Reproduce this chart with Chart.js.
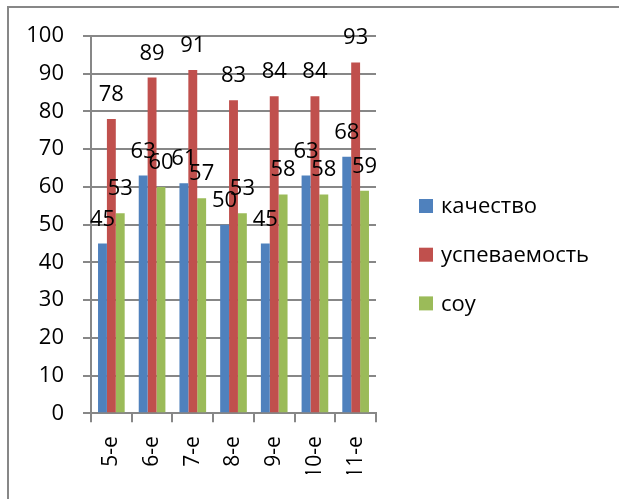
<!DOCTYPE html>
<html><head><meta charset="utf-8">
<script src="https://cdn.jsdelivr.net/npm/chart.js@4"></script>
<style>
html,body{margin:0;padding:0;background:#fff;width:619px;height:499px;overflow:hidden}
#frame{position:absolute;left:7px;top:6px;width:700px;height:600px;border-left:2px solid #878787;border-top:2px solid #878787;}
#c{position:absolute;left:0;top:0}
</style></head><body>
<div id="frame"></div>
<canvas id="c" width="619" height="499"></canvas>
<script>
const categories = ['5-е', '6-е', '7-е', '8-е', '9-е', '10-е', '11-е'];
const seriesNames = ['качество', 'успеваемость', 'соу'];
const kachestvo = [45, 63, 61, 50, 45, 63, 68];
const uspevaemost = [78, 89, 91, 83, 84, 84, 93];
const sou = [53, 60, 57, 53, 58, 58, 59];
const yMin = 0, yMax = 100, yStep = 10;

const FONT = 'Open Sans';
const FSIZE = 22;
const XSIZE = 21;
const GRID = '#878787';
const colors = ['#4F81BD', '#C0504D', '#9BBB59'];

const labelPlugin = {
  id: 'valueLabels',
  afterDatasetsDraw(chart) {
    const ctx = chart.ctx;
    ctx.save();
    ctx.font = FSIZE + 'px "' + FONT + '"';
    ctx.fillStyle = '#000';
    ctx.textAlign = 'center';
    ctx.textBaseline = 'alphabetic';
    chart.data.datasets.forEach((ds, di) => {
      const meta = chart.getDatasetMeta(di);
      meta.data.forEach((el, i) => {
        ctx.fillText(String(ds.data[i]), el.x, el.y - 18);
      });
    });
    ctx.restore();
  }
};

// legend drawn to the right of the plot area, as in the reference
const legendPlugin = {
  id: 'sideLegend',
  afterDraw(chart) {
    const ctx = chart.ctx;
    const ca = chart.chartArea;
    const items = chart.options.plugins.legend.labels.generateLabels(chart);
    const x0 = ca.right + 43;
    const y0 = ca.top + 170;
    const step = 48.7;
    ctx.save();
    ctx.font = FSIZE + 'px "' + FONT + '"';
    ctx.textAlign = 'left';
    ctx.textBaseline = 'middle';
    items.forEach((it, i) => {
      const yc = y0 + i * step;
      ctx.fillStyle = it.fillStyle;
      ctx.fillRect(x0, yc - 7, 14, 14);
      ctx.fillStyle = '#000';
      ctx.fillText(it.text, x0 + 22, yc + 1);
    });
    ctx.restore();
  }
};

new Chart(document.getElementById('c'), {
  type: 'bar',
  data: {
    labels: categories,
    datasets: [
      { label: seriesNames[0], data: kachestvo, backgroundColor: colors[0] },
      { label: seriesNames[1], data: uspevaemost, backgroundColor: colors[1] },
      { label: seriesNames[2], data: sou, backgroundColor: colors[2] }
    ]
  },
  options: {
    responsive: false,
    animation: false,
    devicePixelRatio: 1,
    datasets: { bar: { categoryPercentage: 0.655, barPercentage: 1.0, borderWidth: 0 } },
    layout: { padding: { top: 36, left: 0, bottom: 25, right: 243 } },
    plugins: {
      tooltip: { enabled: false },
      legend: { display: false }
    },
    scales: {
      x: {
        grid: { drawOnChartArea: false, drawTicks: true, tickLength: 9, color: GRID, lineWidth: 2, offset: true },
        border: { display: true, color: GRID, width: 2 },
        ticks: { minRotation: 90, maxRotation: 90, autoSkip: false, padding: 14, color: '#000', font: { family: FONT, size: XSIZE } },
        afterFit: s => { s.height = 60.7; }
      },
      y: {
        min: yMin, max: yMax,
        grid: { color: GRID, lineWidth: 2, tickLength: 8 },
        border: { display: true, color: GRID, width: 2 },
        ticks: { stepSize: yStep, padding: 19, color: '#000', font: { family: FONT, size: FSIZE } },
        afterFit: s => { s.width = 91; }
      }
    }
  },
  plugins: [labelPlugin, legendPlugin]
});
</script>
</body></html>
